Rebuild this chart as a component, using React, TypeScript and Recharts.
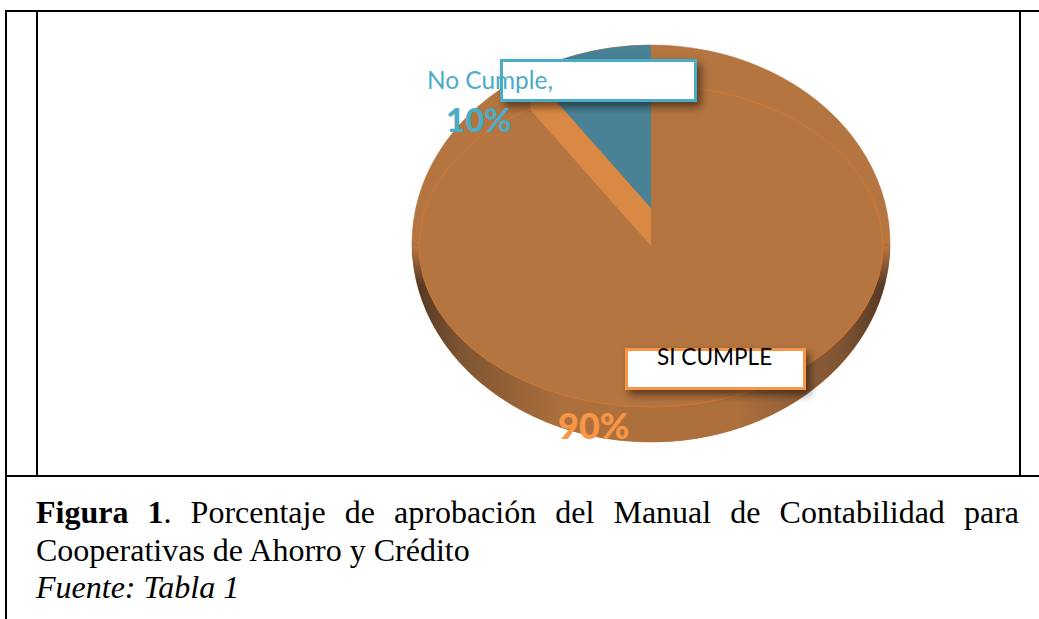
import { PieChart, Pie } from 'recharts';

const categories = ['SI CUMPLE', 'No Cumple'];
const values = [90, 10];
const percentLabels = ['90%', '10%'];
const captionBold = 'Figura 1';
const captionRest = '. Porcentaje de aprobación del Manual de Contabilidad para';
const captionLine2 = 'Cooperativas de Ahorro y Crédito';
const captionLine3 = 'Fuente: Tabla 1';

const pieData = categories.map((name, i) => ({ name, value: values[i] }));

const BODY = '#B47540';
const BLUE = '#4A8295';
const WALL = '#D98944';
const EDGE = '#D4782F';
const LABEL_BLUE = '#4BACC6';
const LABEL_ORANGE = '#F79646';
const FONT = 'Lato, "Open Sans", sans-serif';
const SERIF = '"Liberation Serif", serif';

const RAD = Math.PI / 180;
// the pie is tilted, so every slice is an ellipse: ry = outerRadius * ratio
const point = (cx: number, cy: number, rx: number, ry: number, angle: number) => ({
  x: cx + rx * Math.cos(angle * RAD),
  y: cy - ry * Math.sin(angle * RAD),
});

const sectorPath = (p: any, ratio: number) => {
  const rx = p.outerRadius;
  const ry = rx * ratio;
  const a = point(p.cx, p.cy, rx, ry, p.startAngle);
  const b = point(p.cx, p.cy, rx, ry, p.endAngle);
  const large = Math.abs(p.startAngle - p.endAngle) > 180 ? 1 : 0;
  return `M${p.cx},${p.cy} L${a.x},${a.y} A${rx},${ry} 0 ${large} 1 ${b.x},${b.y} Z`;
};

const OUTER_RATIO = 198.5 / 239;
const SLICE_RATIO = 0.82;
const WALL_HEIGHT = 38;

const BodyShape = (p: any) => <path d={sectorPath(p, OUTER_RATIO)} fill={BODY} stroke={BODY} strokeWidth={0.6} />;

const RimShape = (p: any) => {
  if (p.index !== 0) return <g />;
  const rx = p.outerRadius;
  const ry = rx * OUTER_RATIO;
  const d =
    `M${p.cx - rx},${p.cy} A${rx},${ry} 0 0 0 ${p.cx + rx},${p.cy} ` +
    `L883,246 A232,161 0 0 1 419,246 Z`;
  return (
    <g>
      <path d={d} fill="url(#rimSides)" />
      <path d={d} fill="url(#rimFade)" />
    </g>
  );
};

const FaceLineShape = (p: any) => {
  if (p.index !== 0) return <g />;
  const rx = p.outerRadius;
  const ry = 161;
  return <ellipse cx={p.cx} cy={p.cy} rx={rx} ry={ry} fill="none" stroke={EDGE} strokeWidth={1} />;
};

const WallShape = (p: any) => {
  if (p.index !== 1) return <g />;
  const rx = p.outerRadius;
  const ry = rx * SLICE_RATIO;
  const low = point(p.cx, p.cy, rx, ry, p.startAngle);
  const up = point(p.cx, p.cy - WALL_HEIGHT, rx, ry, p.startAngle);
  return (
    <path
      d={`M${p.cx},${p.cy} L${p.cx},${p.cy - WALL_HEIGHT} L${up.x},${up.y} L${low.x},${low.y} Z`}
      fill={WALL}
    />
  );
};

const BlueShape = (p: any) => {
  if (p.index !== 1) return <g />;
  return <path d={sectorPath(p, SLICE_RATIO)} fill={BLUE} clipPath="url(#pieOutline)" />;
};

const pieProps = {
  data: pieData,
  dataKey: 'value',
  nameKey: 'name',
  startAngle: 90,
  endAngle: -270,
  innerRadius: 0,
  stroke: 'none',
  paddingAngle: 0,
  isAnimationActive: false,
  legendType: 'none' as const,
  labelLine: false,
  label: false,
};

const line = (left: number, top: number, width: number, height: number) => (
  <div style={{ position: 'absolute', left, top, width, height, background: '#000' }} />
);

const text = (
  content: string,
  left: number,
  top: number,
  size: number,
  color: string,
  bold = false,
) => (
  <div
    style={{
      position: 'absolute',
      left,
      top,
      fontFamily: FONT,
      fontSize: size,
      lineHeight: `${size}px`,
      color,
      fontWeight: bold ? 900 : 400,
      whiteSpace: 'nowrap',
    }}
  >
    {content}
  </div>
);

const box = (left: number, top: number, width: number, height: number, border: string) => (
  <div
    style={{
      position: 'absolute',
      left,
      top,
      width,
      height,
      boxSizing: 'border-box',
      background: '#fff',
      border: `3px solid ${border}`,
      boxShadow: '4px 5px 8px rgba(0,0,0,0.5)',
    }}
  />
);

const captionStyle = {
  position: 'absolute' as const,
  left: 36,
  fontFamily: SERIF,
  fontSize: 32,
  lineHeight: '36px',
  color: '#000',
  whiteSpace: 'nowrap' as const,
};

export default function App() {
  return (
    <div style={{ position: 'absolute', left: 0, top: 0, width: 1039, height: 619, background: '#fff', overflow: 'hidden' }}>
      <div style={{ position: 'absolute', left: 0, top: 0 }}>
        <PieChart width={1039} height={476} margin={{ top: 0, right: 0, bottom: 0, left: 0 }}>
          <defs>
            <clipPath id="pieOutline">
              <ellipse cx={651} cy={243.5} rx={239} ry={198.5} />
            </clipPath>
            <linearGradient id="rimSides" gradientUnits="userSpaceOnUse" x1={412} y1={0} x2={890} y2={0}>
              <stop offset="0" stopColor="#4F3522" />
              <stop offset="0.1" stopColor="#7E5432" />
              <stop offset="0.32" stopColor="#AD703D" />
              <stop offset="0.68" stopColor="#AD703D" />
              <stop offset="0.9" stopColor="#7E5432" />
              <stop offset="1" stopColor="#4F3522" />
            </linearGradient>
            <linearGradient id="rimFade" gradientUnits="userSpaceOnUse" x1={0} y1={248} x2={0} y2={285}>
              <stop offset="0" stopColor={BODY} stopOpacity={1} />
              <stop offset="1" stopColor={BODY} stopOpacity={0} />
            </linearGradient>
          </defs>
          <Pie {...pieProps} cx={651} cy={243.5} outerRadius={239} shape={BodyShape} />
          <Pie {...pieProps} cx={651} cy={243.5} outerRadius={239} shape={RimShape} />
          <Pie {...pieProps} cx={651} cy={246} outerRadius={232} shape={FaceLineShape} />
          <Pie {...pieProps} cx={651} cy={246} outerRadius={205} shape={WallShape} />
          <Pie {...pieProps} cx={651} cy={208} outerRadius={205} shape={BlueShape} />
        </PieChart>
      </div>

      {box(500, 59, 197, 43, LABEL_BLUE)}
      {box(625, 348, 181, 42, LABEL_ORANGE)}
      {text(`${categories[1]},`, 427, 68, 24.4, LABEL_BLUE)}
      {text(percentLabels[1], 446, 103, 33, LABEL_BLUE, true)}
      {text(categories[0], 657, 346, 22.6, '#000')}
      {text(percentLabels[0], 558, 407, 36, LABEL_ORANGE, true)}

      {line(5, 10, 1034, 2)}
      {line(5, 10, 2, 609)}
      {line(36, 10, 2, 467)}
      {line(1019, 10, 2, 467)}
      {line(5, 475, 1034, 2)}

      <div style={{ ...captionStyle, top: 494, width: 983, whiteSpace: 'normal', textAlign: 'justify', textAlignLast: 'justify' }}>
        <b>{captionBold}</b>
        {captionRest}
      </div>
      <div style={captionStyle as any}>
        <div style={{ position: 'absolute', left: 0, top: 532 }}>{captionLine2}</div>
        <div style={{ position: 'absolute', left: 0, top: 569, fontStyle: 'italic' }}>{captionLine3}</div>
      </div>
    </div>
  );
}
